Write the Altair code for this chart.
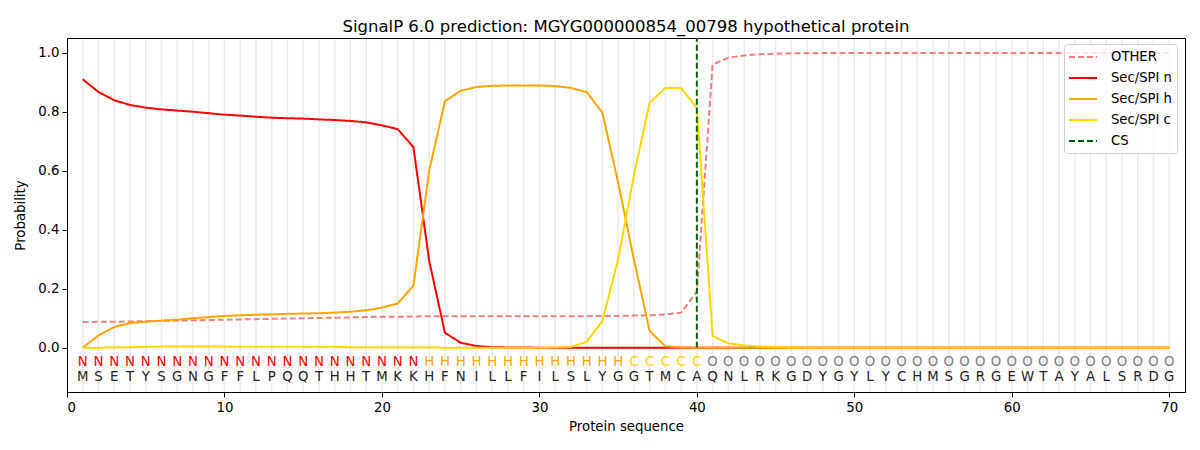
import altair as alt
import pandas as pd

positions = list(range(1, 71))
sequence = list("MSETYSGNGFFLPQQTHHTMKKHFNILLFILSLYGGTMCAQNLRKGDYGYLYCHMSGRGEWTAYALSRDG")
labels = ["N"] * 22 + ["H"] * 13 + ["C"] * 5 + ["O"] * 30

other = [0.087, 0.088, 0.088, 0.089, 0.090, 0.091, 0.092, 0.093, 0.094, 0.095,
         0.096, 0.097, 0.098, 0.099, 0.100, 0.101, 0.102, 0.103, 0.104, 0.105,
         0.105, 0.106, 0.107, 0.107, 0.107, 0.107, 0.107, 0.107, 0.107, 0.107,
         0.107, 0.107, 0.107, 0.108, 0.108, 0.109, 0.110, 0.113, 0.119, 0.190,
         0.960, 0.983, 0.991, 0.995, 0.997, 0.998, 0.998, 0.999, 0.999, 0.999,
         0.999, 0.999, 0.999, 0.999, 0.999, 0.999, 0.999, 0.999, 0.999, 0.999,
         0.999, 0.999, 0.999, 0.999, 0.999, 0.999, 0.999, 0.999, 0.999, 0.999]
sec_n = [0.910, 0.867, 0.839, 0.823, 0.814, 0.808, 0.804, 0.800, 0.795, 0.790,
         0.787, 0.783, 0.780, 0.778, 0.777, 0.774, 0.772, 0.769, 0.764, 0.754,
         0.741, 0.680, 0.295, 0.051, 0.017, 0.006, 0.002, 0.001, 0.001, 0.0,
         0.0, 0.0, 0.0, 0.0, 0.0, 0.0, 0.0, 0.0, 0.0, 0.0,
         0.0, 0.0, 0.0, 0.0, 0.0, 0.0, 0.0, 0.0, 0.0, 0.0,
         0.0, 0.0, 0.0, 0.0, 0.0, 0.0, 0.0, 0.0, 0.0, 0.0,
         0.0, 0.0, 0.0, 0.0, 0.0, 0.0, 0.0, 0.0, 0.0, 0.0]
sec_h = [0.0, 0.042, 0.070, 0.084, 0.088, 0.092, 0.095, 0.100, 0.104, 0.108,
         0.110, 0.112, 0.113, 0.115, 0.116, 0.117, 0.119, 0.122, 0.127, 0.136,
         0.150, 0.210, 0.599, 0.836, 0.871, 0.884, 0.888, 0.889, 0.889, 0.889,
         0.887, 0.881, 0.867, 0.797, 0.560, 0.300, 0.057, 0.005, 0.001, 0.0,
         0.0, 0.0, 0.0, 0.0, 0.0, 0.0, 0.0, 0.0, 0.0, 0.0,
         0.0, 0.0, 0.0, 0.0, 0.0, 0.0, 0.0, 0.0, 0.0, 0.0,
         0.0, 0.0, 0.0, 0.0, 0.0, 0.0, 0.0, 0.0, 0.0, 0.0]
sec_c = [0.0, 0.0, 0.001, 0.002, 0.003, 0.004, 0.004, 0.004, 0.004, 0.004,
         0.003, 0.003, 0.003, 0.003, 0.003, 0.003, 0.003, 0.002, 0.002, 0.001,
         0.001, 0.001, 0.001, 0.0, 0.0, 0.0, 0.0, 0.0, 0.0, 0.0,
         0.001, 0.003, 0.020, 0.090, 0.300, 0.585, 0.830, 0.881, 0.880, 0.813,
         0.040, 0.015, 0.008, 0.004, 0.002, 0.001, 0.0, 0.0, 0.0, 0.0,
         0.0, 0.0, 0.0, 0.0, 0.0, 0.0, 0.0, 0.0, 0.0, 0.0,
         0.0, 0.0, 0.0, 0.0, 0.0, 0.0, 0.0, 0.0, 0.0, 0.0]
cs_position = 40

series_names = ["OTHER", "Sec/SPI n", "Sec/SPI h", "Sec/SPI c", "CS"]
series_colors = ["#F08080", "#FF0000", "#FFA500", "#FFD700", "#006400"]
series_dash = [[6, 3], [1, 0], [1, 0], [1, 0], [6, 3]]
label_colors = {"N": "#FF0000", "H": "#FFA500", "C": "#FFD700", "O": "#808080"}

FONT = "DejaVu Sans"
W, H = 1118, 354

rows = []
for name, vals in zip(series_names[:4], [other, sec_n, sec_h, sec_c]):
    for p, v in zip(positions, vals):
        rows.append({"pos": p, "prob": v, "series": name})
lines_df = pd.DataFrame(rows)

seq_df = pd.DataFrame({
    "pos": positions,
    "aa": sequence,
    "lab": labels,
    "lab_color": [label_colors[l] for l in labels],
    "y_lab": [-0.047] * 70,
    "y_aa": [-0.098] * 70,
})
grid_df = pd.DataFrame({"pos": positions, "g0": [-0.147] * 70, "g1": [1.047] * 70})
cs_df = pd.DataFrame({"pos": [cs_position], "y0": [0.0], "y1": [1.05], "series": ["CS"]})

xscale = alt.Scale(domain=[0, 71], nice=False, zero=False)
yscale = alt.Scale(domain=[-0.15, 1.05], nice=False, zero=False)
color_scale = alt.Scale(domain=series_names, range=series_colors)
dash_scale = alt.Scale(domain=series_names, range=series_dash)

legend = alt.Legend(
    title=None, orient="none", legendX=997, legendY=6,
    symbolType="M-2,0L2,0", symbolSize=196, symbolStrokeWidth=2, symbolOffset=6,
    labelFont=FONT, labelFontSize=13.2, labelColor="black",
    rowPadding=6, padding=5, strokeColor="#d0d0d0", cornerRadius=3,
    fillColor="rgba(255,255,255,0.8)", labelOffset=20, values=series_names,
)

xaxis = alt.Axis(values=list(range(0, 80, 10)), title="Protein sequence", grid=False,
                 labelFont=FONT, labelFontSize=13.3, titleFont=FONT, titleFontSize=13.3,
                 titleFontWeight="normal", labelColor="black", titleColor="black",
                 tickColor="black", domainColor="black", tickSize=5, labelPadding=3,
                 titlePadding=6)
yaxis = alt.Axis(values=[0, 0.2, 0.4, 0.6, 0.8, 1.0], format=".1f", title="Probability",
                 grid=False, labelFont=FONT, labelFontSize=13.3, titleFont=FONT,
                 titleFontSize=13.3, titleFontWeight="normal", labelColor="black",
                 titleColor="black", tickColor="black", domainColor="black", tickSize=5,
                 labelPadding=3, titlePadding=10)

grid = alt.Chart(grid_df).mark_rule(color="#ebebeb", strokeWidth=1.5).encode(
    x=alt.X("pos:Q", scale=xscale, axis=xaxis),
    y=alt.Y("g0:Q", scale=yscale, axis=yaxis),
    y2="g1:Q",
)

lines = alt.Chart(lines_df).mark_line(strokeWidth=2).encode(
    x=alt.X("pos:Q", scale=xscale, axis=xaxis),
    y=alt.Y("prob:Q", scale=yscale, axis=yaxis),
    color=alt.Color("series:N", scale=color_scale, legend=legend),
    strokeDash=alt.StrokeDash("series:N", scale=dash_scale, legend=legend),
    detail="series:N",
    order=alt.Order("pos:Q"),
)

cs_rule = alt.Chart(cs_df).mark_rule(strokeWidth=2).encode(
    x=alt.X("pos:Q", scale=xscale),
    y=alt.Y("y0:Q", scale=yscale),
    y2="y1:Q",
    color=alt.Color("series:N", scale=color_scale, legend=legend),
    strokeDash=alt.StrokeDash("series:N", scale=dash_scale, legend=legend),
)

lab_text = alt.Chart(seq_df).mark_text(font=FONT, fontSize=13.3, baseline="middle").encode(
    x=alt.X("pos:Q", scale=xscale),
    y=alt.Y("y_lab:Q", scale=yscale),
    text="lab:N",
    fill=alt.Fill("lab_color:N", scale=None),
)
aa_text = alt.Chart(seq_df).mark_text(font=FONT, fontSize=13.3, baseline="middle", color="#222222").encode(
    x=alt.X("pos:Q", scale=xscale),
    y=alt.Y("y_aa:Q", scale=yscale),
    text="aa:N",
)

chart = alt.layer(grid, lines, cs_rule, lab_text, aa_text).properties(
    width=W, height=H,
    title=alt.Title("SignalP 6.0 prediction: MGYG000000854_00798 hypothetical protein",
                    font=FONT, fontSize=16.5, fontWeight="normal", color="black",
                    anchor="middle", offset=5, dy=3),
    autosize=alt.AutoSizeParams(type="none"),
    padding={"left": 59, "top": 30, "right": 7, "bottom": 48},
).configure_view(stroke="black", strokeWidth=1)

chart.save("out.html", embed_options={"renderer": "svg", "actions": False})
